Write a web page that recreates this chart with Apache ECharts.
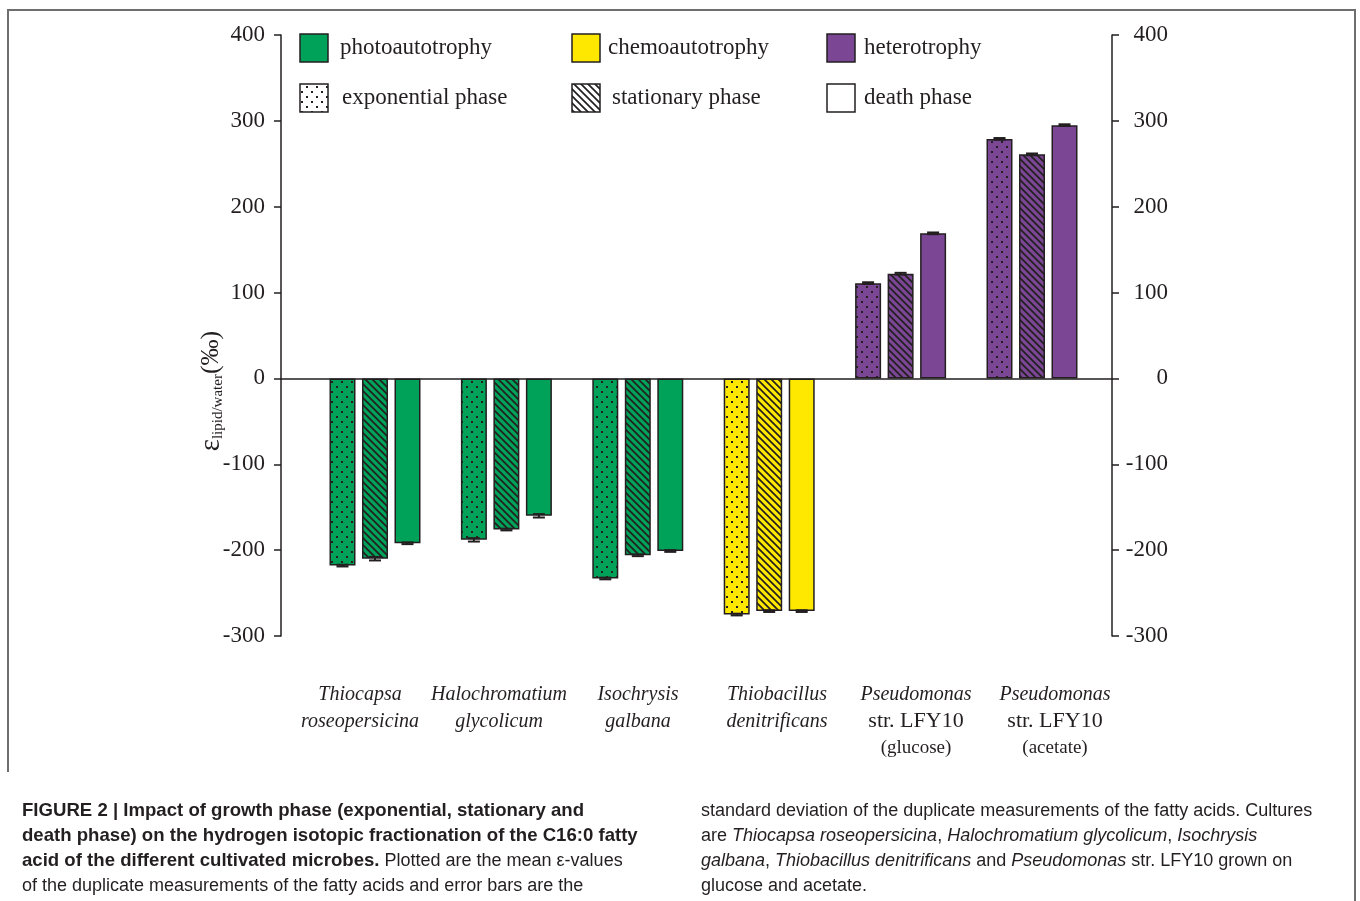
<!DOCTYPE html>
<html>
<head>
<meta charset="utf-8">
<script src="https://cdn.jsdelivr.net/npm/echarts@6/dist/echarts.min.js"></script>
<style>
  html, body { margin: 0; padding: 0; background: #fff; }
  #chart { width: 1360px; height: 901px; }
</style>
</head>
<body>
<div id="chart"></div>
<script>
// Cultures on the category axis
const categories = [
  'Thiocapsa roseopersicina',
  'Halochromatium glycolicum',
  'Isochrysis galbana',
  'Thiobacillus denitrificans',
  'Pseudomonas str. LFY10 (glucose)',
  'Pseudomonas str. LFY10 (acetate)'
];
// Metabolism of each culture (sets bar colour)
const metabolism = ['photoautotrophy', 'photoautotrophy', 'photoautotrophy',
                    'chemoautotrophy', 'heterotrophy', 'heterotrophy'];
// Mean ε lipid/water (‰) per growth phase
const exponential = [-218, -188, -233, -275, 111, 279];
const stationary  = [-210, -176, -206, -271, 122, 261];
const death       = [-192, -160, -201, -271, 169, 295];
// Standard deviation of duplicate measurements
const exponentialSd = [1, 2, 1, 1, 1, 1];
const stationarySd  = [2, 1, 1, 1, 1, 1];
const deathSd       = [1, 2, 1, 1, 1, 1];
// Value axis ticks
const yMin = -300, yMax = 400, yStep = 100;

const INK = '#231f20';
const SERIF = '"Liberation Serif", "Times New Roman", serif';
const SANS = '"Liberation Sans", Arial, sans-serif';
const metabolismColor = {
  photoautotrophy: '#00a25a',
  chemoautotrophy: '#ffe800',
  heterotrophy: '#7b4795'
};
const BAR_W = 26, BAR_GAP = 0.25;

// Tiled fills for the growth phases
function tile(fill, kind) {
  const s = kind === 'lines' ? 7 : 10;
  const c = document.createElement('canvas');
  c.width = s; c.height = s;
  const ctx = c.getContext('2d');
  ctx.fillStyle = fill;
  ctx.fillRect(0, 0, s, s);
  ctx.fillStyle = INK;
  ctx.strokeStyle = INK;
  if (kind === 'dots') {
    ctx.fillRect(1, 1, 2, 2);
    ctx.fillRect(6, 6, 2, 2);
  } else if (kind === 'lines') {
    ctx.lineWidth = 1.7;
    ctx.beginPath();
    [-s, 0, s].forEach(o => { ctx.moveTo(o - 1, -1); ctx.lineTo(o + s + 1, s + 1); });
    ctx.stroke();
  }
  return { image: c, repeat: 'repeat' };
}

function barData(values, kind) {
  return values.map((v, i) => {
    const base = metabolismColor[metabolism[i]];
    return { value: v, itemStyle: { color: kind ? tile(base, kind) : base } };
  });
}

const phases = [
  { name: 'exponential phase', values: exponential, sd: exponentialSd, kind: 'dots' },
  { name: 'stationary phase', values: stationary, sd: stationarySd, kind: 'lines' },
  { name: 'death phase', values: death, sd: deathSd, kind: null }
];

const errData = [];
phases.forEach((p, k) => p.values.forEach((v, i) => errData.push([i, v, p.sd[i], k])));

function labelFormatter(name) {
  if (name.indexOf('Pseudomonas') === 0) {
    const m = name.match(/^(\S+) (str\. \S+) (\(.*\))$/);
    return '{it|' + m[1] + '}\n{up|' + m[2] + '}\n{sm|' + m[3] + '}';
  }
  const parts = name.split(' ');
  return '{it|' + parts[0] + '}\n{it|' + parts[1] + '}';
}

const valueAxisCommon = {
  type: 'value', min: yMin, max: yMax, interval: yStep,
  splitLine: { show: false }
};

const chart = echarts.init(document.getElementById('chart'));

// Legend entries
const legendRows = [
  [['photoautotrophy', metabolismColor.photoautotrophy, 300, 340],
   ['chemoautotrophy', metabolismColor.chemoautotrophy, 572, 608],
   ['heterotrophy', metabolismColor.heterotrophy, 827, 864]],
  [['exponential phase', tile('#ffffff', 'dots'), 300, 342],
   ['stationary phase', tile('#ffffff', 'lines'), 572, 612],
   ['death phase', '#ffffff', 827, 864]]
];
const legendGraphics = [];
legendRows.forEach((row, r) => {
  const top = 34 + r * 50;
  row.forEach(([label, fill, sx, tx]) => {
    legendGraphics.push({
      type: 'rect', shape: { x: sx, y: top, width: 28, height: 28 },
      style: { fill: fill, stroke: INK, lineWidth: 1.5 }
    });
    legendGraphics.push({
      type: 'text', x: tx, y: top + 14,
      style: { text: label, fill: INK, font: '23px ' + SERIF, verticalAlign: 'middle' }
    });
  });
});

// Value-axis title, rotated
const axisTitle = {
  type: 'text', x: 211, y: 391, rotation: Math.PI / 2,
  style: {
    text: '{e|ε}{s|lipid/water}{p|(‰)}',
    align: 'center', verticalAlign: 'middle', fill: INK,
    font: '26px ' + SERIF,
    rich: {
      e: { fontFamily: SERIF, fontSize: 29, fill: INK },
      s: { fontFamily: SERIF, fontSize: 15, fill: INK, verticalAlign: 'bottom', padding: [12, 0, 0, 0] },
      p: { fontFamily: SERIF, fontSize: 26, fill: INK }
    }
  }
};

// Caption
const capRich = {
  b: { fontFamily: SANS, fontWeight: 'bold', fontSize: 18.6, fill: INK },
  r: { fontFamily: SANS, fontSize: 18, fill: INK },
  i: { fontFamily: SANS, fontStyle: 'italic', fontSize: 18, fill: INK }
};
const captionLeft = [
  '{b|FIGURE 2 | Impact of growth phase (exponential, stationary and}',
  '{b|death phase) on the hydrogen isotopic fractionation of the C16:0 fatty}',
  '{b|acid of the different cultivated microbes.}{r| Plotted are the mean ε-values}',
  '{r|of the duplicate measurements of the fatty acids and error bars are the}'
];
const captionRight = [
  '{r|standard deviation of the duplicate measurements of the fatty acids. Cultures}',
  '{r|are }{i|Thiocapsa roseopersicina}{r|, }{i|Halochromatium glycolicum}{r|, }{i|Isochrysis}',
  '{i|galbana}{r|, }{i|Thiobacillus denitrificans}{r| and }{i|Pseudomonas}{r| str. LFY10 grown on}',
  '{r|glucose and acetate.}'
];
const captionGraphics = [];
[[captionLeft, 22], [captionRight, 701]].forEach(([lines, x]) => {
  lines.forEach((t, n) => captionGraphics.push({
    type: 'text', x: x, y: 811 + n * 25,
    style: { text: t, rich: capRich, verticalAlign: 'middle', fill: INK, font: '18px ' + SANS }
  }));
});

// Frame lines
const frameGraphics = [
  { type: 'polyline', shape: { points: [[8, 772], [8, 10], [1355, 10], [1355, 901]] },
    style: { stroke: '#6e6e6e', lineWidth: 2, fill: null } }
];

const option = {
  backgroundColor: '#ffffff',
  animation: false,
  grid: [
    { left: 281, top: 35, width: 831, height: 601, outerBoundsMode: 'none' },
    { left: 309.3, top: 35, width: 788.4, height: 601, outerBoundsMode: 'none' },
    { left: 290.5, top: 35, width: 834, height: 601, outerBoundsMode: 'none' }
  ],
  xAxis: [
    { gridIndex: 0, type: 'value', min: 0, max: 1,
      axisLine: { show: true, onZero: true, onZeroAxisIndex: 0, lineStyle: { color: INK, width: 1.5 } },
      axisTick: { show: false }, axisLabel: { show: false }, splitLine: { show: false } },
    { gridIndex: 1, type: 'category', data: categories, show: false },
    { gridIndex: 2, type: 'category', data: categories, position: 'bottom',
      axisLine: { show: false, onZero: false }, axisTick: { show: false }, splitLine: { show: false },
      axisLabel: {
        interval: 0, margin: 45, formatter: labelFormatter, color: INK,
        rich: {
          it: { fontFamily: SERIF, fontStyle: 'italic', fontSize: 20, lineHeight: 27, color: INK },
          up: { fontFamily: SERIF, fontSize: 22, lineHeight: 27, color: INK },
          sm: { fontFamily: SERIF, fontSize: 19, lineHeight: 27, color: INK }
        }
      } }
  ],
  yAxis: [
    Object.assign({}, valueAxisCommon, {
      gridIndex: 0, position: 'left',
      axisLine: { show: true, lineStyle: { color: INK, width: 1.5 } },
      axisTick: { show: true, length: 7, lineStyle: { color: INK, width: 1.5 } },
      axisLabel: { margin: 16, color: INK, fontFamily: SERIF, fontSize: 23 }
    }),
    Object.assign({}, valueAxisCommon, {
      gridIndex: 0, position: 'right',
      axisLine: { show: true, lineStyle: { color: INK, width: 1.5 } },
      axisTick: { show: true, length: 7, lineStyle: { color: INK, width: 1.5 } },
      axisLabel: { margin: 56, align: 'right', color: INK, fontFamily: SERIF, fontSize: 23 }
    }),
    Object.assign({}, valueAxisCommon, { gridIndex: 1, show: false }),
    Object.assign({}, valueAxisCommon, { gridIndex: 2, show: false })
  ],
  series: phases.map(p => ({
    type: 'bar', name: p.name, xAxisIndex: 1, yAxisIndex: 2,
    barWidth: BAR_W, barGap: (BAR_GAP * 100) + '%',
    data: barData(p.values, p.kind),
    itemStyle: { borderColor: INK, borderWidth: 1.5 },
    z: 3
  })).concat([{
    type: 'custom', name: 'sd', xAxisIndex: 1, yAxisIndex: 2, z: 4,
    data: errData,
    renderItem: function (params, api) {
      const ci = api.value(0), v = api.value(1), sd = api.value(2), k = api.value(3);
      const step = BAR_W * (1 + BAR_GAP);
      const x = api.coord([ci, v])[0] + (k - 1) * step;
      const hi = api.coord([ci, v + sd])[1];
      const lo = api.coord([ci, v - sd])[1];
      const cap = 6;
      const st = { stroke: INK, lineWidth: 2 };
      return {
        type: 'group',
        children: [
          { type: 'line', shape: { x1: x, y1: hi, x2: x, y2: lo }, style: st },
          { type: 'line', shape: { x1: x - cap, y1: hi, x2: x + cap, y2: hi }, style: st },
          { type: 'line', shape: { x1: x - cap, y1: lo, x2: x + cap, y2: lo }, style: st }
        ]
      };
    }
  }]),
  graphic: frameGraphics.concat([axisTitle], legendGraphics, captionGraphics)
};

chart.setOption(option);
</script>
</body>
</html>
